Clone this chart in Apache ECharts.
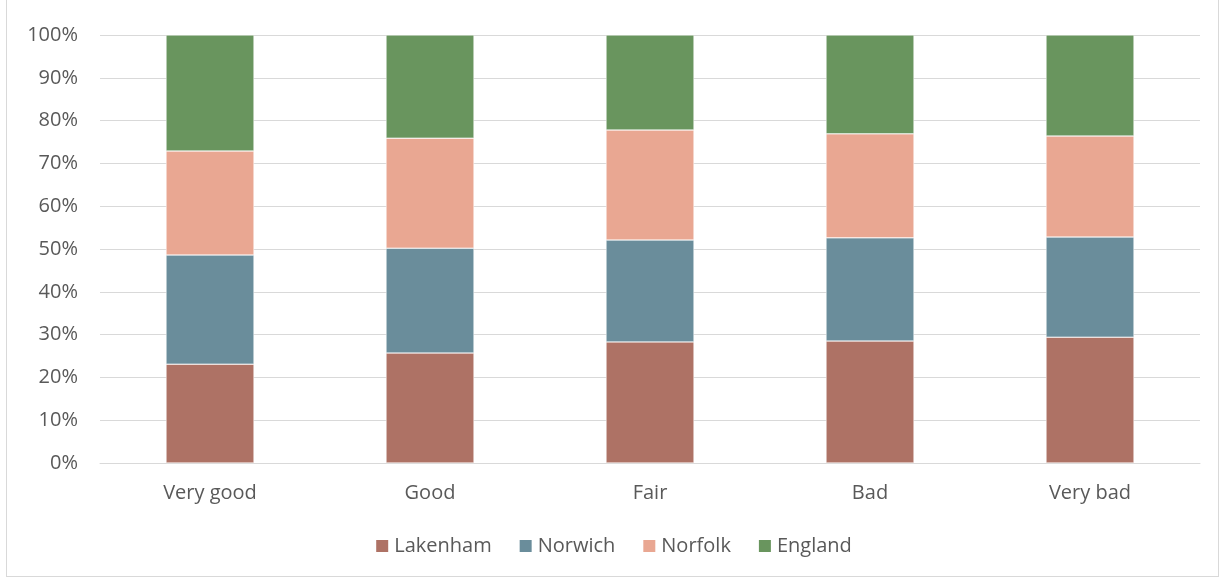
<!DOCTYPE html>
<html><head><meta charset="utf-8">
<script src="https://cdn.jsdelivr.net/npm/echarts@6/dist/echarts.min.js"></script>
<style>html,body{margin:0;padding:0;background:#fff}#wrap{position:absolute;left:6px;top:0;width:1213px;height:577px;border:1px solid #d9d9d9;border-top:none;box-sizing:border-box}#c{position:absolute;left:0;top:0;width:1226px;height:581px}</style>
</head><body><div id="wrap"></div><div id="c"></div>
<script>
const categories = ['Very good', 'Good', 'Fair', 'Bad', 'Very bad'];
const lakenham = [23.1, 25.7, 28.3, 28.5, 29.4];
const norwich  = [25.5, 24.5, 23.8, 24.1, 23.4];
const norfolk  = [24.3, 25.7, 25.7, 24.3, 23.6];
const england  = [27.1, 24.1, 22.2, 23.1, 23.6];
const seriesNames = ['Lakenham', 'Norwich', 'Norfolk', 'England'];
const colors = ['#AE7265', '#6A8D9B', '#E9A792', '#69955E'];
const values = [lakenham, norwich, norfolk, england];

const chart = echarts.init(document.getElementById('c'));
chart.setOption({
  animation: false,
  textStyle: { fontFamily: 'Open Sans' },
  legend: {
    bottom: 20, left: 'center', itemWidth: 14, itemHeight: 14, itemGap: 26,
    icon: 'rect',
    textStyle: { color: '#595959', fontSize: 20, fontFamily: 'Open Sans' },
    data: seriesNames
  },
  grid: { left: 100, right: 26, top: 35, bottom: 118 },
  xAxis: {
    type: 'category', data: categories,
    axisLine: { lineStyle: { color: '#d9d9d9', width: 1 } },
    axisTick: { show: false },
    axisLabel: { color: '#595959', fontSize: 20, margin: 20 }
  },
  yAxis: {
    type: 'value', min: 0, max: 100, interval: 10,
    axisLine: { show: false }, axisTick: { show: false },
    splitLine: { lineStyle: { color: '#d9d9d9', width: 1 } },
    axisLabel: { color: '#595959', fontSize: 20, margin: 22, formatter: '{value}%' }
  },
  series: seriesNames.map((n, i) => ({
    name: n, type: 'bar', stack: 'all', barWidth: '40%',
    itemStyle: { color: colors[i], borderColor: '#fff', borderWidth: 0.5 },
    data: values[i]
  }))
});
</script></body></html>
